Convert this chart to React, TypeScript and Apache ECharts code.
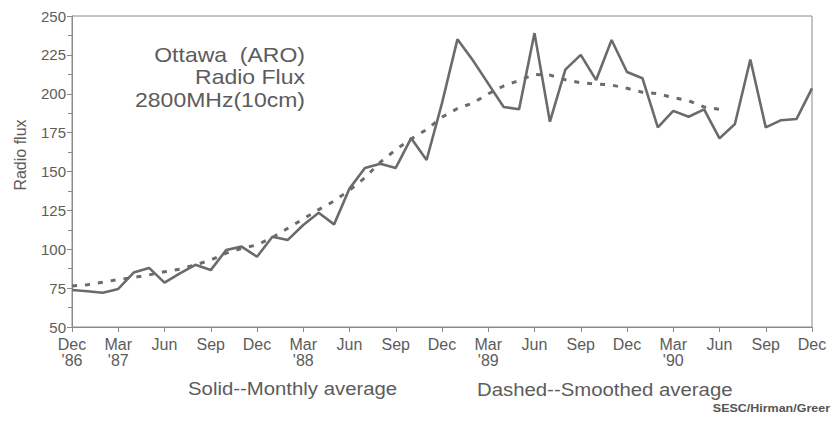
import React, { useEffect, useRef } from "react";
import * as echarts from "echarts";

const months: string[] = [
  "1986-12",
  "1987-01", "1987-02", "1987-03", "1987-04", "1987-05", "1987-06",
  "1987-07", "1987-08", "1987-09", "1987-10", "1987-11", "1987-12",
  "1988-01", "1988-02", "1988-03", "1988-04", "1988-05", "1988-06",
  "1988-07", "1988-08", "1988-09", "1988-10", "1988-11", "1988-12",
  "1989-01", "1989-02", "1989-03", "1989-04", "1989-05", "1989-06",
  "1989-07", "1989-08", "1989-09", "1989-10", "1989-11", "1989-12",
  "1990-01", "1990-02", "1990-03", "1990-04", "1990-05", "1990-06",
  "1990-07", "1990-08", "1990-09", "1990-10", "1990-11", "1990-12",
];

const tickLabels: string[] = [
  "Dec\n'86", "Mar\n'87", "Jun", "Sep",
  "Dec", "Mar\n'88", "Jun", "Sep",
  "Dec", "Mar\n'89", "Jun", "Sep",
  "Dec", "Mar\n'90", "Jun", "Sep",
  "Dec",
];

const monthlyAverage: number[] = [
  73.8, 73, 72, 74.5, 85, 88, 78.5, 84.5, 90, 86.6, 99.5, 101.7, 95.2,
  108, 106, 115.6, 123.5, 116, 139, 152.3, 155, 152.3, 171.4, 157.4, 194,
  235, 221.5, 206.5, 191.5, 190, 239, 182, 215.5, 225, 208.8, 234.6, 214,
  210, 178.4, 189, 185.2, 190, 171.3, 180.5, 222, 178.4, 183, 183.8, 203.5,
];

const smoothedAverage: number[] = [
  76.4, 77.2, 78.8, 80.5, 81.8, 83.5, 85.5, 87.2, 90, 93, 97.5, 100.5, 102.8,
  107.5, 113.5, 119.5, 125.5, 131, 138, 146, 156, 164, 171, 177, 185,
  190.5, 194, 200, 205, 208.5, 212.5, 212, 209, 207, 206.3, 205.6, 203.5,
  201, 200, 197.5, 195.5, 191.5, 190,
];

const titleLines: string[] = ["Ottawa  (ARO)", "Radio Flux", "2800MHz(10cm)"];

const FONT = "'Liberation Sans', Arial, Helvetica, sans-serif";
const TEXT = "#5c5c5c";
const LINE = "#6b6b6b";
const AXIS = "#8a8a8a";

export default function App() {
  const ref = useRef<HTMLDivElement>(null);

  useEffect(() => {
    if (!ref.current) return;
    const chart = echarts.init(ref.current, undefined, { renderer: "svg" });
    chart.setOption({
      animation: false,
      backgroundColor: "#ffffff",
      grid: {
        left: 72,
        right: 20,
        top: 16,
        bottom: 96,
        show: true,
        borderColor: AXIS,
        borderWidth: 1,
        backgroundColor: "transparent",
      },
      xAxis: {
        type: "category",
        data: months,
        boundaryGap: false,
        axisLine: { show: true, lineStyle: { color: AXIS, width: 1 } },
        axisTick: { show: true, interval: 2, length: 5, inside: false, lineStyle: { color: AXIS } },
        axisLabel: {
          interval: 2,
          margin: 9,
          color: TEXT,
          fontFamily: FONT,
          fontSize: 16,
          lineHeight: 16,
          formatter: (_v: string, i: number) => tickLabels[Math.round(i / 3)] ?? "",
        },
        splitLine: { show: false },
      },
      yAxis: {
        type: "value",
        min: 50,
        max: 250,
        interval: 25,
        axisLine: { show: true, lineStyle: { color: AXIS, width: 1 } },
        axisTick: { show: true, length: 5, lineStyle: { color: AXIS } },
        minorTick: { show: true, splitNumber: 2, length: 4, lineStyle: { color: AXIS } },
        axisLabel: { margin: 6, color: TEXT, fontFamily: FONT, fontSize: 15 },
        splitLine: { show: false },
      },
      series: [
        {
          name: "Monthly average",
          type: "line",
          data: monthlyAverage,
          symbol: "none",
          lineStyle: { color: LINE, width: 2.6 },
          z: 3,
        },
        {
          name: "Smoothed average",
          type: "line",
          data: smoothedAverage,
          symbol: "none",
          lineStyle: { color: LINE, width: 3, type: [5, 8] },
          z: 2,
        },
      ],
      graphic: [
        ...titleLines.map((t, k) => ({
          type: "text",
          x: 305,
          y: 55 + k * 22.5,
          scaleX: 1.15,
          style: {
            text: t,
            fill: TEXT,
            fontFamily: FONT,
            fontSize: 20,
            textAlign: "right",
            textVerticalAlign: "middle",
          },
        })),
        {
          type: "text",
          x: 20,
          y: 155,
          rotation: Math.PI / 2,
          style: {
            text: "Radio flux",
            fill: TEXT,
            fontFamily: FONT,
            fontSize: 16,
            textAlign: "center",
            textVerticalAlign: "middle",
          },
        },
        {
          type: "text",
          x: 188,
          y: 388,
          scaleX: 1.1,
          style: {
            text: "Solid--Monthly average",
            fill: TEXT,
            fontFamily: FONT,
            fontSize: 18.5,
            textAlign: "left",
            textVerticalAlign: "middle",
          },
        },
        {
          type: "text",
          x: 477,
          y: 389,
          scaleX: 1.1,
          style: {
            text: "Dashed--Smoothed average",
            fill: TEXT,
            fontFamily: FONT,
            fontSize: 18.5,
            textAlign: "left",
            textVerticalAlign: "middle",
          },
        },
        {
          type: "text",
          x: 830,
          y: 408,
          scaleX: 1.25,
          style: {
            text: "SESC/Hirman/Greer",
            fill: "#555",
            fontFamily: FONT,
            fontSize: 10,
            fontWeight: "bold",
            textAlign: "right",
            textVerticalAlign: "middle",
          },
        },
      ],
    });
    return () => chart.dispose();
  }, []);

  return <div ref={ref} style={{ width: 832, height: 423, position: "absolute", left: 0, top: 0 }} />;
}
